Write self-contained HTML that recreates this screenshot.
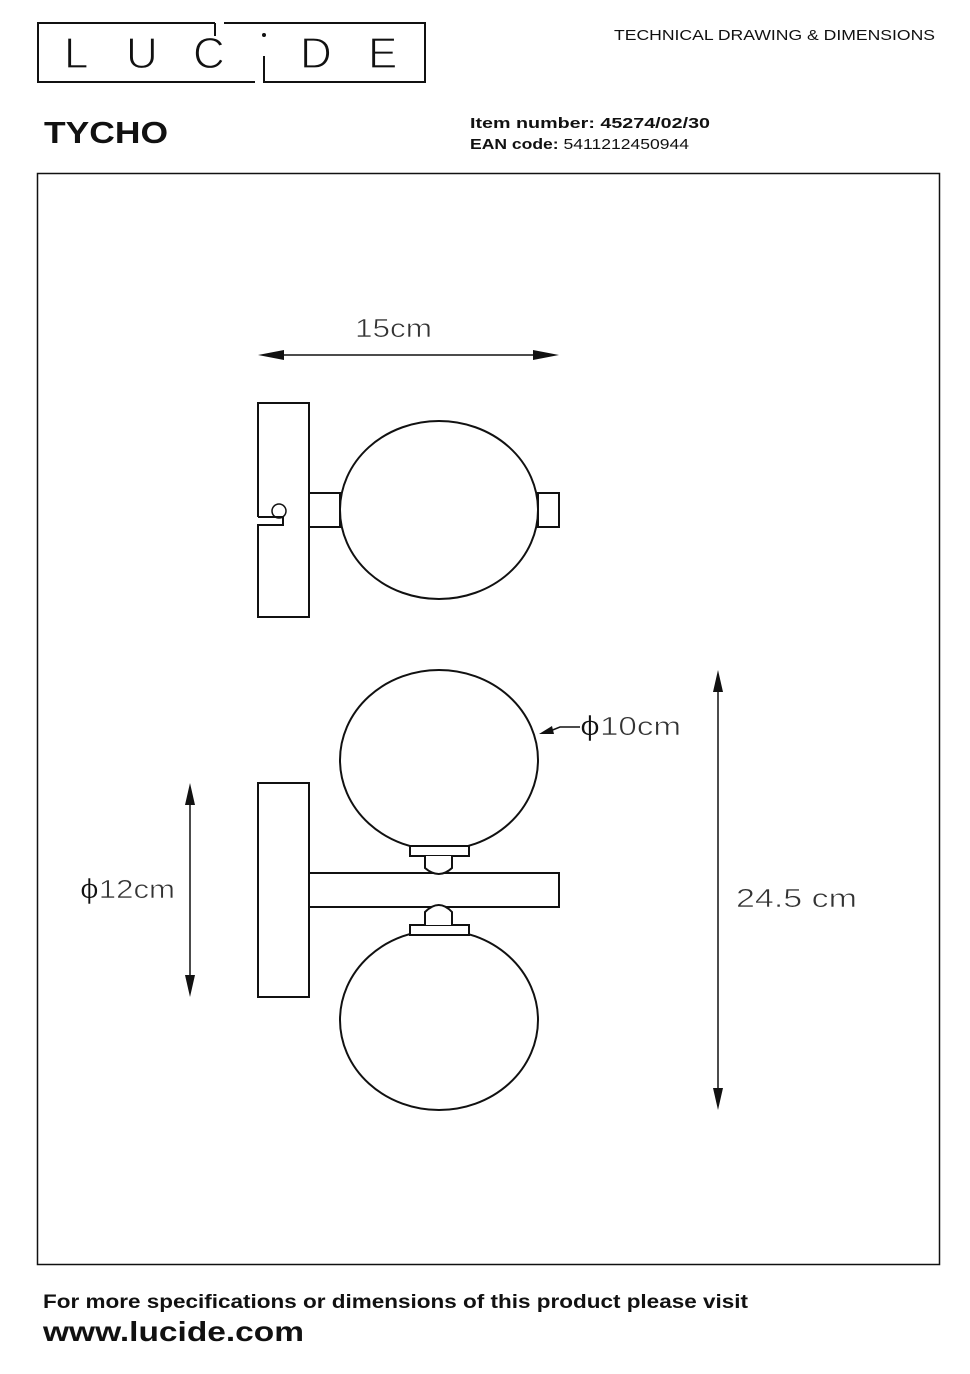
<!DOCTYPE html>
<html><head><meta charset="utf-8"><style>
body{margin:0;background:#fff;}
svg{display:block;}
text{font-family:"Liberation Sans",sans-serif;}
</style></head><body>
<svg width="970" height="1374" viewBox="0 0 970 1374" xmlns="http://www.w3.org/2000/svg">
<rect width="970" height="1374" fill="#fff"/>
<!-- logo -->
<g fill="none" stroke="#111" stroke-width="2">
<polyline points="215,23 38,23 38,82 255,82"/>
<polyline points="224,23 425,23 425,82 264,82 264,56"/>
<line x1="215" y1="23" x2="215" y2="36"/>
</g>
<circle cx="264" cy="35" r="2" fill="#111"/>
<g font-size="44" fill="#111" stroke="#fff" stroke-width="1.2">
<text x="64" y="68">L</text>
<text x="126" y="68">U</text>
<text x="193" y="68">C</text>
<text x="300" y="68">D</text>
<text x="368" y="68">E</text>
</g>
<text x="614" y="40" font-size="15" fill="#111" textLength="321" lengthAdjust="spacingAndGlyphs">TECHNICAL DRAWING &amp; DIMENSIONS</text>
<text x="44" y="143" font-size="31" font-weight="bold" fill="#111" textLength="124" lengthAdjust="spacingAndGlyphs">TYCHO</text>
<text x="470" y="128" font-size="15" font-weight="bold" fill="#111" textLength="240" lengthAdjust="spacingAndGlyphs">Item number: 45274/02/30</text>
<text x="470" y="149" font-size="15" fill="#111" textLength="219" lengthAdjust="spacingAndGlyphs"><tspan font-weight="bold">EAN code:</tspan> 5411212450944</text>
<rect x="37.5" y="173.5" width="902" height="1091" fill="none" stroke="#111" stroke-width="1.5"/>

<g fill="none" stroke="#111" stroke-width="2">
<!-- top view -->
<polyline points="258,517 258,403 309,403 309,617 258,617 258,525 283,525 283,517 258,517"/>
<circle cx="279" cy="511" r="7" stroke-width="1.5"/>
<rect x="309" y="493" width="31" height="34"/>
<rect x="538" y="493" width="21" height="34"/>
<ellipse cx="439" cy="510" rx="99" ry="89" fill="#fff"/>
<!-- front view -->
<rect x="258" y="783" width="51" height="214"/>
<rect x="309" y="873" width="250" height="34"/>
<ellipse cx="439" cy="760" rx="99" ry="90"/>
<ellipse cx="439" cy="1020" rx="99" ry="90"/>
<rect x="410" y="846" width="59" height="10" fill="#fff"/>
<path d="M425,856 V868 Q439,880 452,868 V856" fill="#fff"/>
<rect x="410" y="925" width="59" height="10" fill="#fff"/>
<path d="M425,925 V912 Q439,898 452,912 V925" fill="#fff"/>
<!-- dimension lines -->
<line x1="266" y1="355" x2="551" y2="355" stroke-width="1.5"/>
<line x1="190" y1="795" x2="190" y2="985" stroke-width="1.5"/>
<line x1="718" y1="682" x2="718" y2="1098" stroke-width="1.5"/>
<polyline points="545,733 560,727 580,727" stroke-width="1.5"/>
</g>
<g fill="#111">
<polygon points="258,355 284,350 284,360"/>
<polygon points="559,355 533,350 533,360"/>
<polygon points="190,783 185,805 195,805"/>
<polygon points="190,997 185,975 195,975"/>
<polygon points="718,670 713,692 723,692"/>
<polygon points="718,1110 713,1088 723,1088"/>
<polygon points="539,734 552,726 554,734"/>
</g>
<g fill="#333" font-size="26" stroke="#fff" stroke-width="0.6">
<text x="355" y="337" textLength="77" lengthAdjust="spacingAndGlyphs">15cm</text>
<text x="80" y="898" textLength="95" lengthAdjust="spacingAndGlyphs"><tspan font-size="28" fill="#111">ϕ</tspan>12cm</text>
<text x="580" y="735" textLength="101" lengthAdjust="spacingAndGlyphs"><tspan font-size="28" fill="#111">ϕ</tspan>10cm</text>
<text x="736" y="907" textLength="121" lengthAdjust="spacingAndGlyphs">24.5 cm</text>
</g>
<text x="43" y="1308" font-size="19" font-weight="bold" fill="#111" textLength="705" lengthAdjust="spacingAndGlyphs">For more specifications or dimensions of this product please visit</text>
<text x="43" y="1341" font-size="28" font-weight="bold" fill="#111" textLength="261" lengthAdjust="spacingAndGlyphs">www.lucide.com</text>
</svg>
</body></html>
